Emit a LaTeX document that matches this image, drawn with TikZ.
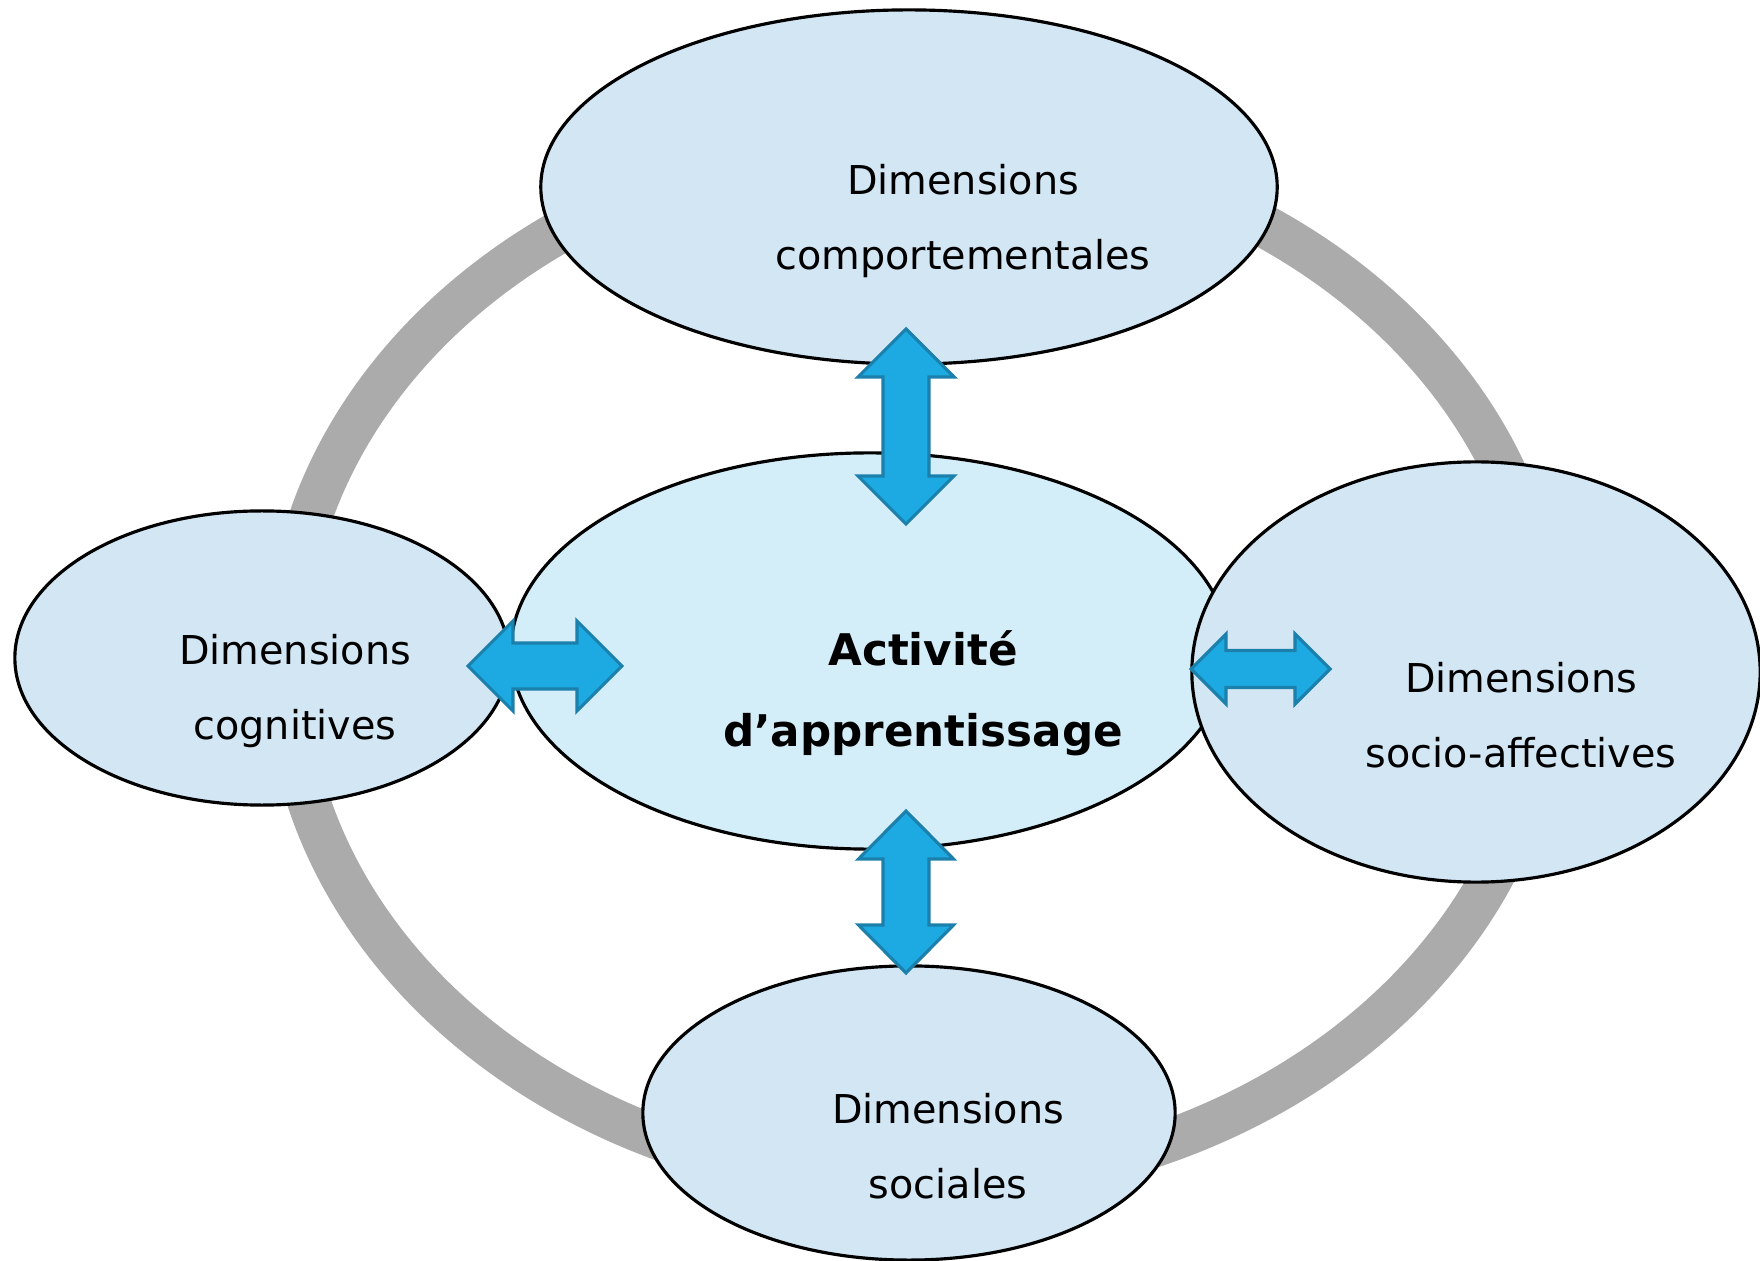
\documentclass[tikz,border=0pt]{standalone}
\usepackage{fontspec}
\setmainfont{DejaVu Sans}
\usetikzlibrary{shapes.geometric}
\definecolor{ringgray}{RGB}{171,171,171}
\definecolor{dimfill}{RGB}{210,230,244}
\definecolor{actfill}{RGB}{212,238,249}
\definecolor{arrowfill}{RGB}{29,170,226}
\definecolor{arrowline}{RGB}{27,128,172}
% double fleche : centre x, centre y, angle, longueur, largeur tete, largeur corps, longueur tete
\newcommand{\dblarrow}[7]{%
  \begin{scope}[shift={(#1,#2)},rotate=#3]
    \filldraw[flech] ({-#4/2},0) -- ({-#4/2+#7},{#5/2}) -- ({-#4/2+#7},{#6/2})
      -- ({#4/2-#7},{#6/2}) -- ({#4/2-#7},{#5/2}) -- ({#4/2},0)
      -- ({#4/2-#7},{-#5/2}) -- ({#4/2-#7},{-#6/2}) -- ({-#4/2+#7},{-#6/2})
      -- ({-#4/2+#7},{-#5/2}) -- cycle;
  \end{scope}}
\begin{document}
\begin{tikzpicture}[x=0.01cm,y=-0.01cm,
  dim/.style={ellipse,draw,line width=0.9pt,fill=dimfill,inner sep=0pt},
  dimtext/.style={align=center,inner sep=0pt,font=\fontsize{11.3}{21.3}\selectfont},
  flech/.style={fill=arrowfill,draw=arrowline,line width=0.9pt}]
  \useasboundingbox (0,0) rectangle (1760,1261);
  % anneau
  \draw[ringgray,line width=0.43cm] (917,662) ellipse (631 and 522);
  % activite au centre
  \node[dim,fill=actfill,minimum width=7.18cm,minimum height=3.96cm] (act) at (870,651) {};
  \node[dimtext,font=\fontsize{12.4}{23}\selectfont\bfseries] (actt) at (923,693) {Activité\\d’apprentissage};
  % dimensions
  \node[dim,minimum width=7.36cm,minimum height=3.54cm] (comp) at (909,187) {};
  \node[dim,minimum width=4.94cm,minimum height=2.94cm] (cogn) at (262,658) {};
  \node[dim,minimum width=5.68cm,minimum height=4.20cm] (socaff) at (1476,672) {};
  \node[dim,minimum width=5.32cm,minimum height=2.94cm] (soc) at (909,1113) {};
  \node[dimtext] (compt) at (963,221) {Dimensions\\comportementales};
  \node[dimtext] (cognt) at (295,691) {Dimensions\\cognitives};
  \node[dimtext] (socafft) at (1521,715) {Dimensions\\socio-affectives};
  \node[dimtext] (soct) at (948,1146) {Dimensions\\sociales};
  % fleches
  \dblarrow{906}{426.5}{90}{195}{96}{46}{48}
  \dblarrow{906}{892}{90}{162}{95}{46}{48}
  \dblarrow{545}{666}{0}{154}{90}{46}{45}
  \dblarrow{1260.5}{669}{0}{139}{70}{37}{35}
\end{tikzpicture}
\end{document}
